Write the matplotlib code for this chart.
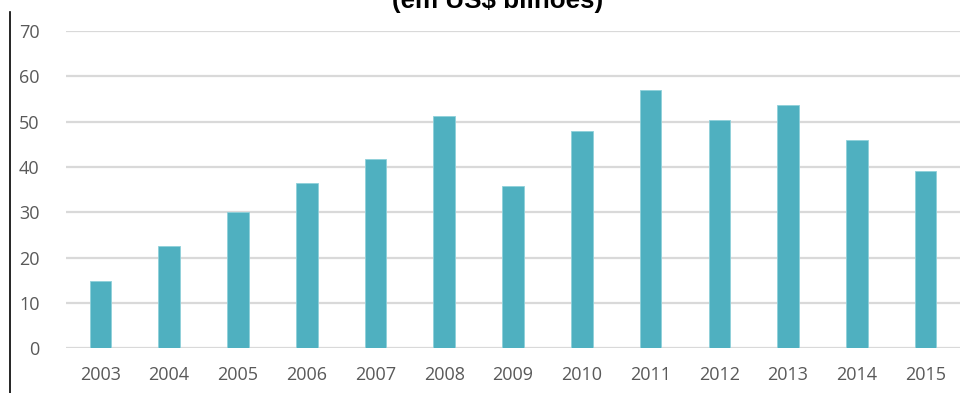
import matplotlib.pyplot as plt
from matplotlib.lines import Line2D

# dados (em US$ bilhões)
anos = ["2003", "2004", "2005", "2006", "2007", "2008", "2009",
        "2010", "2011", "2012", "2013", "2014", "2015"]
valores = [14.8, 22.6, 30.1, 36.4, 41.8, 51.2, 35.8,
           47.9, 57.1, 50.3, 53.7, 45.9, 39.1]
yticks = [0, 10, 20, 30, 40, 50, 60, 70]

plt.rcParams["font.family"] = ["Open Sans", "DejaVu Sans"]

fig = plt.figure(figsize=(9.72, 3.93), dpi=100)
ax = fig.add_axes([0.0679, 0.1137, 0.9198, 0.8073])

x = range(len(anos))
ax.bar(x, valores, width=0.315, color="#4FB0C0", edgecolor="#8FD0DA",
       linewidth=0.6, zorder=3)

ax.set_xlim(-0.5, len(anos) - 0.5)
ax.set_ylim(0, 70)
ax.set_yticks(yticks)
ax.set_xticks(list(x))
ax.set_xticklabels(anos)
ax.grid(axis="y", color="#D9D9D9", linewidth=1.6, zorder=0)
for s in ax.spines.values():
    s.set_visible(False)
ax.tick_params(length=0, labelsize=13, labelcolor="#595959")
ax.tick_params(axis="y", pad=19)
ax.tick_params(axis="x", pad=13)

# título (cortado no topo)
fig.text(0.512, 1 - 8 / 393, "(em US$ bilhões)", ha="center", va="baseline",
         fontsize=18.7, fontweight="bold", family="Liberation Sans")

# linha vertical à esquerda
fig.add_artist(Line2D([9.5 / 972, 9.5 / 972], [0, 1 - 12 / 393],
                      color="black", linewidth=1.2))

fig.savefig("out.png", dpi=100)
